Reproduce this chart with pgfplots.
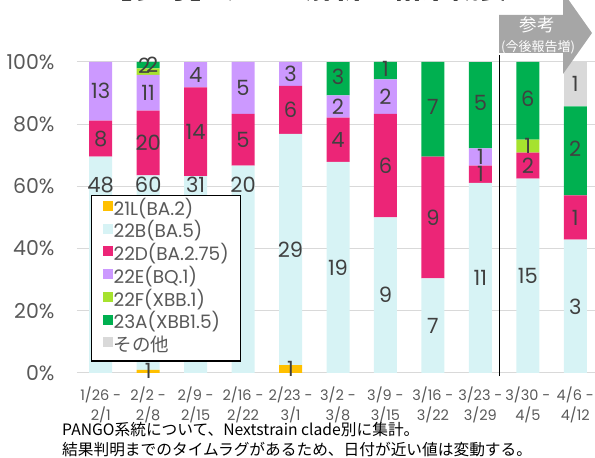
\documentclass[border=0pt]{standalone}
\usepackage{fontspec}
\setmainfont{Poppins}
\newfontfamily\jp{Noto Sans CJK JP}
\usepackage{pgfplots}
\usepackage{pgfplotstable}
\pgfplotsset{compat=1.18}

\definecolor{cL}{HTML}{FFC000}
\definecolor{cB}{HTML}{D7F3F5}
\definecolor{cD}{HTML}{EC2577}
\definecolor{cE}{HTML}{CC99FF}
\definecolor{cF}{HTML}{A6E22E}
\definecolor{cA}{HTML}{00B050}
\definecolor{cO}{HTML}{D9D9D9}
\definecolor{lbl}{HTML}{404040}
\definecolor{tck}{HTML}{595959}
\definecolor{gridc}{HTML}{D9D9D9}
\definecolor{arr}{HTML}{A6A6A6}

% counts per clade; T = total of the week
\pgfplotstableread{
i L B D E F A O T
0 0 48 8 13 0 0 0 69
1 1 60 20 11 2 2 0 96
2 0 31 14 4 0 0 0 49
3 0 20 5 5 0 0 0 30
4 1 29 6 3 0 0 0 39
5 0 19 4 2 0 3 0 28
6 0 9 6 2 0 1 0 18
7 0 7 9 0 0 7 0 23
8 0 11 1 1 0 5 0 18
9 0 15 2 0 1 6 0 24
10 0 3 1 0 0 2 1 7
}\counts

\pgfplotsset{
  base/.style={
    scale only axis, width=522pt, height=311pt,
    at={(77pt,85pt)}, anchor=south west,
    xmin=-0.5, xmax=10.5, ymin=0, ymax=100,
    ybar stacked, bar width=23pt,
  },
}

\begin{document}
\begin{tikzpicture}
\path[use as bounding box] (0,0) rectangle (595pt,458pt);

\node[anchor=base west, font=\jp\bfseries\fontsize{29}{29}\selectfont, inner sep=0pt] at (103pt,459pt) {【参考】ゲノム解析の結果概要};

\begin{axis}[base, clip=false,
  ymajorgrids, grid style={draw=gridc, line width=1pt},
  axis line style={draw=none}, major tick length=0pt,
  ytick={0,20,...,100},
  /pgf/number format/assume math mode=true,
  yticklabel={\pgfmathprintnumber{\tick}\%},
  yticklabel style={font=\fontsize{20.5}{20.5}\selectfont, text=tck, xshift=-19pt},
  xtick={0,...,10},
  xticklabels={{1/26 -\\2/1},{2/2 -\\2/8},{2/9 -\\2/15},{2/16 -\\2/22},{2/23 -\\3/1},{3/2 -\\3/8},{3/9 -\\3/15},{3/16 -\\3/22},{3/23 -\\3/29},{3/30 -\\4/5},{4/6 -\\4/12}},
  xticklabel style={align=center, font=\fontsize{14.5}{20}\selectfont, text=tck, yshift=-10pt},
  legend style={at={(axis description cs:0.0268,0.572)}, anchor=north west,
    draw=black, line width=1.3pt, fill=white,
    font=\fontsize{18.5}{18.5}\selectfont, text=tck,
    inner xsep=11pt, inner ysep=5pt, row sep=4pt,
    nodes={inner sep=1pt, text height=13pt, text depth=3.5pt},
    /tikz/every even column/.append style={column sep=3pt}},
  legend cell align=left,
  legend image code/.code={\fill[#1,draw=none] (0pt,-0.5pt) rectangle (10pt,9.5pt);},
]
\addplot[fill=cL, draw=none] table[x=i, y expr=\thisrow{L}/\thisrow{T}*100]{\counts};
\addplot[fill=cB, draw=none] table[x=i, y expr=\thisrow{B}/\thisrow{T}*100]{\counts};
\addplot[fill=cD, draw=none] table[x=i, y expr=\thisrow{D}/\thisrow{T}*100]{\counts};
\addplot[fill=cE, draw=none] table[x=i, y expr=\thisrow{E}/\thisrow{T}*100]{\counts};
\addplot[fill=cF, draw=none] table[x=i, y expr=\thisrow{F}/\thisrow{T}*100]{\counts};
\addplot[fill=cA, draw=none] table[x=i, y expr=\thisrow{A}/\thisrow{T}*100]{\counts};
\addplot[fill=cO, draw=none] table[x=i, y expr=\thisrow{O}/\thisrow{T}*100]{\counts};
\legend{21L(BA.2),22B(BA.5),22D(BA.2.75),22E(BQ.1),22F(XBB.1),23A(XBB1.5),{\jp その他}}
\draw[black, line width=1.6pt] (axis cs:8.4,-1) -- (axis cs:8.4,102.3);
\end{axis}

\begin{axis}[base, hide axis, point meta=explicit symbolic,
  visualization depends on={\thisrow{T} \as \tot},
  visualization depends on={\thisrow{i} \as \xi},
  nodes near coords={\ifnum\pgfplotspointmeta>0 \pgfplotspointmeta\fi},
  every node near coord/.append style={font=\fontsize{21}{21}\selectfont, text=lbl, anchor=center, inner sep=0pt},
]
\addplot[draw=none, fill=none] table[x=i, y expr=\thisrow{L}/\thisrow{T}*100, meta=L]{\counts};
\addplot[draw=none, fill=none,
  visualization depends on={\thisrow{L} \as \lv},
  every node near coord/.append style={yshift={\xi<3.5 ? -((\lv+0.5*\pgfplotspointmeta)/\tot*100-60.5)*3.11 : 0}}]
  table[x=i, y expr=\thisrow{B}/\thisrow{T}*100, meta=B]{\counts};
\addplot[draw=none, fill=none] table[x=i, y expr=\thisrow{D}/\thisrow{T}*100, meta=D]{\counts};
\addplot[draw=none, fill=none] table[x=i, y expr=\thisrow{E}/\thisrow{T}*100, meta=E]{\counts};
\addplot[draw=none, fill=none,
  every node near coord/.append style={xshift={\xi==1 ? -4 : 0}, yshift={\xi==1 ? 6 : 0}}]
  table[x=i, y expr=\thisrow{F}/\thisrow{T}*100, meta=F]{\counts};
\addplot[draw=none, fill=none,
  every node near coord/.append style={xshift={\xi==1 ? 4 : 0}, yshift={\xi==1 ? 0 : 2}}]
  table[x=i, y expr=\thisrow{A}/\thisrow{T}*100, meta=A]{\counts};
\addplot[draw=none, fill=none] table[x=i, y expr=\thisrow{O}/\thisrow{T}*100, meta=O]{\counts};
\end{axis}

\fill[arr] (499pt,443pt) -- (563pt,443pt) -- (563pt,466pt) -- (592pt,425pt) -- (563pt,384pt) -- (563pt,405pt) -- (499pt,405pt) -- cycle;
\node[font=\jp\fontsize{17.5}{17.5}\selectfont, text=white, inner sep=0pt] at (537pt,433pt) {参考};
\node[font=\jp\fontsize{13}{13}\selectfont, text=white, inner sep=0pt] at (538pt,411pt) {(今後報告増)};

\node[anchor=west, font=\jp\fontsize{15.7}{15.7}\selectfont, inner sep=0pt] at (62pt,28pt) {PANGO系統について、Nextstrain clade別に集計。};
\node[anchor=west, font=\jp\fontsize{15.7}{15.7}\selectfont, inner sep=0pt] at (62pt,8pt) {結果判明までのタイムラグがあるため、日付が近い値は変動する。};
\end{tikzpicture}
\end{document}
